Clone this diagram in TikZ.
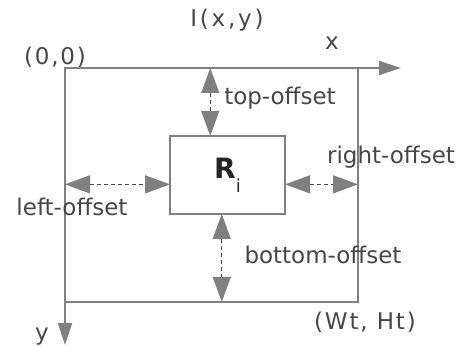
\documentclass[tikz,border=0pt]{standalone}
\usepackage{fontspec}
\setmainfont{DejaVu Sans}
\newfontfamily\spacedfont[LetterSpace=8]{DejaVu Sans}
\newfontfamily\widefont[LetterSpace=12]{DejaVu Sans}
\usetikzlibrary{arrows.meta,calc}
\definecolor{axisgray}{HTML}{808080}
\definecolor{labelgray}{HTML}{474747}
\tikzset{
  frame/.style={draw=axisgray, line width=2pt, inner sep=0pt, outer sep=0pt, minimum width=293pt, minimum height=234pt},
  region/.style={draw=axisgray, line width=2pt, fill=white, inner sep=0pt, outer sep=0pt, minimum width=115pt, minimum height=78pt, text=black!85, font=\fontsize{28}{30}\selectfont\bfseries},
  axisline/.style={draw=axisgray, line width=2pt, -{Triangle[length=22pt,width=14pt]}},
  offarrow/.style={{Triangle[length=25pt,width=18pt,color=axisgray]}-{Triangle[length=25pt,width=18pt,color=axisgray]}, draw=labelgray, line width=1.2pt, dash pattern=on 4pt off 3pt},
  offlabel/.style={text=labelgray, font=\fontsize{23}{26}\selectfont, inner sep=0pt},
  coordlabel/.style={text=labelgray, font=\fontsize{23}{26}\selectfont\spacedfont, inner sep=0pt}
}
\begin{document}
\begin{tikzpicture}[x=1pt,y=-1pt]
\useasboundingbox (0,0) rectangle (461,347);
% image area and region
\node[frame] (frame) at (211.5,185) {};
\node[region] (ri) at (227.5,175) {R\raisebox{-14pt}{\fontsize{18}{18}\selectfont\mdseries i}};

% axes
\coordinate (origin) at (65,68);
\coordinate (xend) at (401,68);
\coordinate (yend) at (65,345);
\draw[axisline] (origin) -- (xend);
\draw[axisline] (origin) -- (yend);

% offsets
\coordinate (topx) at ($(ri.north west)!0.35!(ri.north east)$);
\coordinate (botx) at ($(ri.south west)!0.45!(ri.south east)$);
\coordinate (lefty) at ($(ri.north west)!0.62!(ri.south west)$);
\coordinate (righty) at ($(ri.north east)!0.62!(ri.south east)$);
\draw[offarrow] (topx |- frame.north) -- (topx);
\draw[offarrow] (botx) -- (botx |- frame.south);
\draw[offarrow] (lefty -| frame.west) -- (lefty);
\draw[offarrow] (righty) -- (righty -| frame.east);

% labels
\node[text=labelgray, font=\fontsize{23}{26}\selectfont\widefont, inner sep=0pt] (image) at (227,20) {I(x,y)};
\node[offlabel] (xlab) at (332,43) {x};
\node[coordlabel] (zero) at (55,57) {(0,0)};
\node[offlabel] (toplab) at (280,98) {top-offset};
\node[offlabel] (rightlab) at (391,157) {right-offset};
\node[offlabel] (leftlab) at (72,207) {left-offset};
\node[offlabel] (botlab) at (323,255) {bottom-offset};
\node[coordlabel] (corner) at (365,322) {(Wt, Ht)};
\node[offlabel] (ylab) at (42,337) {y};
\end{tikzpicture}
\end{document}
